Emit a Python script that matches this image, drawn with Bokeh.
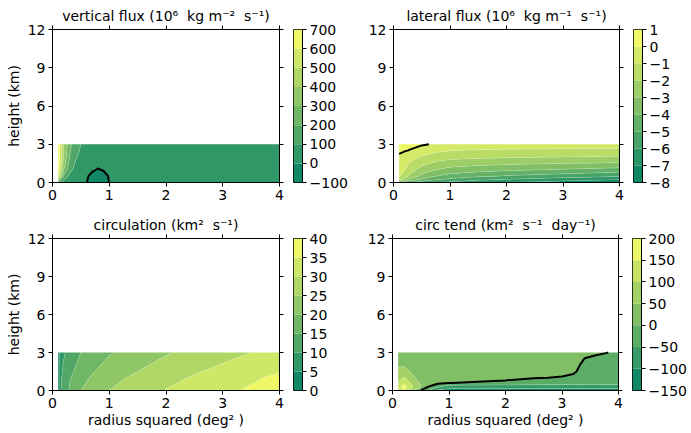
import numpy as np
from bokeh.plotting import figure
from bokeh.layouts import row, column
from bokeh.models import FixedTicker, LinearAxis, Range1d, CustomJSTickFormatter
from bokeh.embed import file_html
from bokeh.resources import INLINE

# ---------------- data ----------------
x_ticks = [0, 1, 2, 3, 4]
y_ticks = [0, 3, 6, 9, 12]

SP = "\u00a0\u00a0"
titles = [
    "vertical flux (10\u2076" + SP + "kg m\u207b\u00b2" + SP + "s\u207b\u00b9)",
    "lateral flux (10\u2076" + SP + "kg m\u207b\u00b9" + SP + "s\u207b\u00b9)",
    "circulation (km\u00b2" + SP + "s\u207b\u00b9)",
    "circ tend (km\u00b2" + SP + "s\u207b\u00b9" + SP + "day\u207b\u00b9)",
]
y_label = "height (km)"
x_label = "radius squared (deg\u00b2\u00a0)"

# vertical flux
vf_levels = [-100, 0, 100, 200, 300, 400, 500, 600, 700]
vf_r2 = [0.1, 0.2, 0.3, 0.4, 0.5, 0.6, 0.7, 0.8, 0.9, 1.0, 1.5, 2.0, 3.0, 4.0]
vf_height = [0.0, 0.5, 1.0, 1.5, 2.0, 2.5, 3.0]
vf_values = [
    [200,  60,  30,  20,  10,   2, -30, -40, -30,   2,   5,   5,   5,   5],
    [550, 180,  80,  50,  35,  10, -20, -35, -20,   5,  20,  20,  20,  20],
    [650, 300, 130,  75,  50,  25,  10,  -5,   5,  15,  30,  30,  30,  30],
    [680, 350, 170,  95,  60,  35,  25,  20,  20,  25,  35,  35,  35,  35],
    [680, 380, 200, 115,  75,  45,  35,  30,  30,  35,  40,  40,  40,  40],
    [680, 400, 220, 130,  90,  55,  45,  40,  40,  40,  45,  45,  40,  40],
    [670, 400, 230, 140, 100,  60,  50,  45,  45,  45,  45,  45,  40,  40],
]

# lateral flux
lf_levels = [-8, -7, -6, -5, -4, -3, -2, -1, 0, 1]
lf_r2 = [0.1, 0.2, 0.3, 0.5, 0.75, 1.0, 1.5, 2.0, 3.0, 4.0]
lf_height = [0.0, 0.25, 0.5, 1.0, 1.5, 2.0, 2.5, 3.0]
lf_values = [
    [-4.0, -4.5, -5.0, -5.5, -6.0, -6.3, -6.7, -7.0, -7.5, -7.9],
    [-1.5, -2.5, -3.2, -4.1, -4.8, -5.2, -5.7, -6.0, -6.5, -6.9],
    [-0.9, -1.5, -2.3, -3.3, -4.0, -4.4, -4.8, -5.1, -5.5, -5.9],
    [-0.6, -1.0, -1.6, -2.4, -3.0, -3.3, -3.6, -3.8, -4.1, -4.4],
    [-0.4, -0.7, -1.1, -1.7, -2.2, -2.5, -2.7, -2.8, -3.0, -3.1],
    [-0.15, -0.4, -0.7, -1.1, -1.5, -1.7, -1.8, -1.9, -2.0, -2.1],
    [0.15, 0.05, -0.05, -0.45, -0.8, -1.0, -1.1, -1.15, -1.2, -1.25],
    [0.4, 0.3, 0.2, 0.1, -0.1, -0.35, -0.45, -0.5, -0.55, -0.6],
]

# circulation
ci_levels = [0, 5, 10, 15, 20, 25, 30, 35, 40]
ci_r2 = [0.1, 0.15, 0.2, 0.3, 0.5, 0.75, 1.0, 1.5, 2.0, 2.5, 3.0, 3.5, 4.0]
ci_height = [0.0, 1.0, 2.0, 3.0]
ci_values = [
    [3, 10.0, 12.0, 15.5, 20.0, 22.5, 25.0, 27.5, 30.2, 32.0, 34.0, 35.7, 37.5],
    [3,  9.5, 11.5, 14.5, 18.5, 21.0, 23.5, 26.0, 28.5, 30.5, 32.5, 34.2, 36.0],
    [3,  9.0, 10.5, 13.0, 16.5, 19.0, 21.5, 24.0, 26.5, 28.5, 30.3, 32.0, 33.5],
    [3,  8.0,  9.5, 11.5, 15.0, 17.5, 19.5, 22.0, 24.5, 26.5, 28.3, 30.0, 31.5],
]

# circulation tendency (one list per radius column, bottom to top)
ct_levels = [-150, -100, -50, 0, 50, 100, 150, 200]
ct_r2 = [0.1, 0.2, 0.3, 0.45, 0.6, 0.8, 1.0, 1.5, 2.0, 2.5, 3.0, 3.2, 3.4, 3.6, 3.8, 4.0]
ct_height = [0.0, 0.2, 0.4, 0.6, 0.8, 1.0, 1.5, 2.0, 2.5, 3.0]
ct_columns = [
    [80, 110, 110, 100, 90, 80, 60, 45, 35, 30],
    [140, 180, 170, 145, 120, 105, 70, 45, 35, 30],
    [80, 120, 120, 105, 90, 75, 50, 35, 30, 28],
    [20, 60, 65, 55, 45, 40, 32, 28, 26, 25],
    [-40, -5, 20, 30, 30, 30, 28, 26, 25, 25],
    [-110, -60, -20, 10, 20, 25, 25, 25, 25, 25],
    [-130, -90, -55, 2, 15, 20, 25, 25, 25, 25],
    [-130, -90, -55, -15, 15, 20, 25, 25, 25, 25],
    [-130, -90, -55, -25, 0.5, 15, 22, 25, 25, 25],
    [-130, -90, -55, -35, -20, 5, 20, 25, 25, 25],
    [-130, -90, -55, -40, -25, -5, 20, 25, 25, 25],
    [-130, -90, -55, -40, -30, -15, 10, 20, 25, 25],
    [-130, -90, -55, -40, -35, -30, -25, -15, -1, 10],
    [-130, -90, -55, -40, -35, -30, -25, -20, -10, 8],
    [-130, -90, -55, -40, -35, -30, -25, -20, -15, 1],
    [-130, -90, -55, -40, -35, -30, -25, -20, -15, -10],
]

# ---------------- styling helpers ----------------
FONT = "DejaVu Sans"
FS = "14px"


def summer(t):
    r, g, b = t, 0.5 + 0.5 * t, 0.4
    return "#%02x%02x%02x" % (round(r * 255), round(g * 255), round(b * 255))


def palette(levels):
    n = len(levels) - 1
    return [summer((i + 0.5) / n) for i in range(n)]


def style_axis(ax, standoff=3):
    ax.major_tick_out = 4
    ax.major_tick_in = 0
    ax.minor_tick_out = 0
    ax.minor_tick_in = 0
    ax.major_tick_line_color = "black"
    ax.major_tick_line_width = 1
    ax.axis_line_color = "black"
    ax.axis_line_width = 1
    ax.major_label_text_font = FONT
    ax.major_label_text_font_size = FS
    ax.major_label_text_color = "black"
    ax.major_label_standoff = standoff
    ax.axis_label_text_font = FONT
    ax.axis_label_text_font_size = FS
    ax.axis_label_text_font_style = "normal"
    ax.axis_label_text_color = "black"


def blank_axis(ticks):
    ax = LinearAxis(ticker=FixedTicker(ticks=ticks),
                    formatter=CustomJSTickFormatter(code="return ''"))
    style_axis(ax, 0)
    ax.major_label_text_font_size = "0px"
    return ax


def make_panel(title, r2, hgt, vals, levels, bl, bt, bb, fw, fh,
               ylabel=None, xlabel=None, zero_line=True):
    p = figure(frame_width=fw, frame_height=fh,
               min_border_left=bl, min_border_right=7,
               min_border_top=bt, min_border_bottom=bb,
               x_range=Range1d(0, 4), y_range=Range1d(0, 12),
               output_backend="svg", toolbar_location=None, title=title)
    p.grid.visible = False
    p.outline_line_color = "black"
    p.background_fill_color = "white"
    p.border_fill_color = "white"
    p.title.align = "center"
    p.title.text_font = FONT
    p.title.text_font_size = FS
    p.title.text_font_style = "normal"
    p.title.text_color = "black"
    p.title.standoff = 3

    xa = p.xaxis[0]
    xa.ticker = FixedTicker(ticks=x_ticks)
    style_axis(xa, 3)
    ya = p.yaxis[0]
    ya.ticker = FixedTicker(ticks=y_ticks)
    style_axis(ya, 3)
    if ylabel:
        ya.axis_label = ylabel
        ya.axis_label_standoff = 3
    if xlabel:
        xa.axis_label = xlabel
        xa.axis_label_standoff = 1

    p.add_layout(blank_axis(x_ticks), "above")
    p.add_layout(blank_axis(y_ticks), "right")

    z = np.array(vals, dtype=float)
    p.contour(r2, hgt, z, levels, fill_color=palette(levels),
              line_color="white", line_alpha=0.3, line_width=0.6)
    if zero_line:
        p.contour(r2, hgt, z, [0], line_color=["black"], line_width=2)
    return p


def make_cbar(levels, bt, bb, fh, br):
    c = figure(frame_width=9, frame_height=fh,
               min_border_left=7, min_border_right=br,
               min_border_top=bt, min_border_bottom=bb,
               x_range=Range1d(0, 1), y_range=Range1d(levels[0], levels[-1]),
               output_backend="svg", toolbar_location=None,
               x_axis_location=None, y_axis_location="right")
    c.grid.visible = False
    c.outline_line_color = "black"
    c.quad(left=0, right=1, bottom=levels[:-1], top=levels[1:],
           fill_color=palette(levels), line_color=None)
    ax = c.yaxis[0]
    ax.ticker = FixedTicker(ticks=levels)
    ax.formatter = CustomJSTickFormatter(
        code="return tick < 0 ? '\\u2212' + Math.abs(tick) : String(tick);")
    style_axis(ax, 3)
    return c


# ---------------- layout ----------------
TOP_BT, TOP_BB, TOP_FH = 29, 24, 153
BOT_BT, BOT_BB, BOT_FH = 32, 43, 152

p1 = make_panel(titles[0], vf_r2, vf_height, vf_values, vf_levels,
                52, TOP_BT, TOP_BB, 227, TOP_FH, ylabel=y_label)
c1 = make_cbar(vf_levels, TOP_BT, TOP_BB, TOP_FH, 47)
p2 = make_panel(titles[1], lf_r2, lf_height, lf_values, lf_levels,
                43, TOP_BT, TOP_BB, 226, TOP_FH)
c2 = make_cbar(lf_levels, TOP_BT, TOP_BB, TOP_FH, 50)

p3 = make_panel(titles[2], ci_r2, ci_height, ci_values, ci_levels,
                52, BOT_BT, BOT_BB, 227, BOT_FH, ylabel=y_label, xlabel=x_label,
                zero_line=False)
c3 = make_cbar(ci_levels, BOT_BT, BOT_BB, BOT_FH, 47)
ct_values = np.array(ct_columns, dtype=float).T
p4 = make_panel(titles[3], ct_r2, ct_height, ct_values, ct_levels,
                43, BOT_BT, BOT_BB, 226, BOT_FH, xlabel=x_label)
c4 = make_cbar(ct_levels, BOT_BT, BOT_BB, BOT_FH, 50)

layout = column(row(p1, c1, p2, c2, spacing=0), row(p3, c3, p4, c4, spacing=0), spacing=0)

open("out.html", "w").write(file_html(layout, INLINE))
